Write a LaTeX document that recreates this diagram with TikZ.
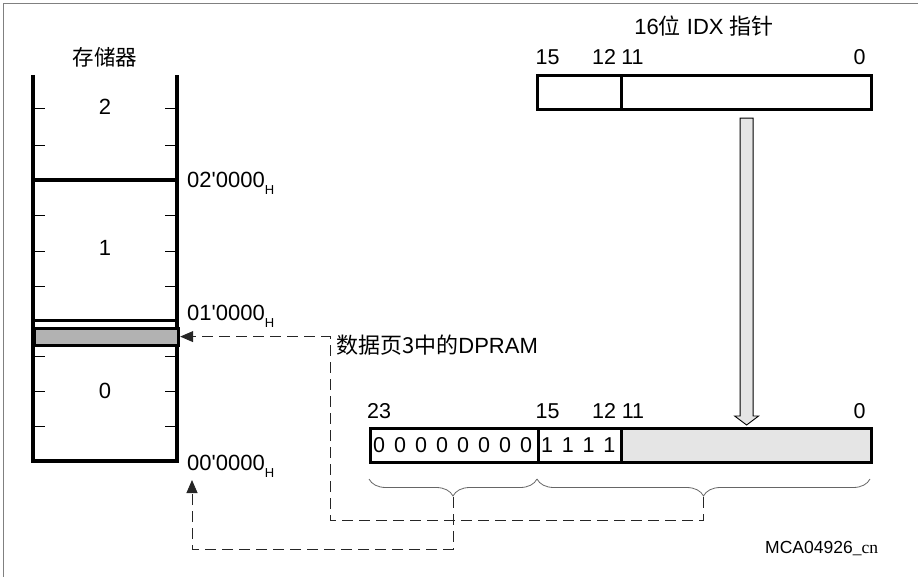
\documentclass[tikz,border=0pt]{standalone}
\usepackage{fontspec}
\setmainfont{Liberation Sans}[Ligatures=TeXOff]
\newfontfamily\cjk{Noto Sans CJK SC}
\newfontfamily\serifcn{Liberation Serif}
\usetikzlibrary{arrows.meta,decorations.pathreplacing,calc}
\newcommand\hexlbl[1]{#1\raisebox{-7pt}{\fontsize{13}{14}\selectfont H}}
\begin{document}
\begin{tikzpicture}[x=1pt,y=-1pt,
  thickline/.style={line width=3.2pt},
  ticks/.style={line width=0.9pt},
  frameline/.style={draw=black!50, line width=1pt},
  dline/.style={draw=black!85, line width=0.9pt, dash pattern=on 11pt off 6pt},
  tipstyle/.style={-{Triangle[length=13pt,width=11pt]}},
  lbl/.style={font=\fontsize{22}{24}\selectfont, inner sep=0pt},
  bitlbl/.style={font=\fontsize{21.5}{24}\selectfont, inner sep=0pt, anchor=base},
  cell/.style={draw, line width=3.2pt, anchor=north west, inner sep=0pt, minimum height=34pt},
  bracestyle/.style={draw=black!60, line width=0.8pt, decorate, decoration={brace, amplitude=17pt, mirror}},
  blockarrow/.style={draw=black, line width=0.9pt, fill=black!10}
]
\useasboundingbox (0,0) rectangle (918,577);
% frame
\draw[frameline] (3.5,577) -- (3.5,3.5) -- (918,3.5);

% ---------- memory ----------
\node[lbl, font=\cjk\fontsize{21.5}{24}\selectfont] (memtitle) at (105,57) {存储器};
\draw[thickline] (33,75) -- (33,461) -- (177,461) -- (177,75);
\draw[thickline] (33,180) -- (177,180);
\draw[thickline] (33,320.5) -- (177,320.5);
\node[draw, line width=3.2pt, fill=black!30, anchor=north west, inner sep=0pt,
      minimum width=144pt, minimum height=17pt] (dpram) at (33,326.5) {};
\foreach \y in {108,145,215,251,286,356,391,426}{
  \draw[ticks] (33,\y) -- (45,\y);
  \draw[ticks] (165,\y) -- (177,\y);
}
\node[lbl, anchor=base] (seg2) at (105,115) {2};
\node[lbl, anchor=base] (seg1) at (105,256) {1};
\node[lbl, anchor=base] (seg0) at (105,398) {0};
\node[lbl, anchor=base west] (hex2) at (187,188) {\hexlbl{02'0000}};
\node[lbl, anchor=base west] (hex1) at (187,320) {\hexlbl{01'0000}};
\node[lbl, anchor=base west] (hex0) at (187,470) {\hexlbl{00'0000}};

% ---------- 16-bit IDX pointer ----------
\node[lbl, anchor=base] (idxtitle) at (704,35) {16{\cjk 位} IDX {\cjk 指针}};
\node[cell, minimum width=84pt] (idxhi) at (536,74) {};
\node[cell, minimum width=250pt] (idxlo) at (620,74) {};
\node[bitlbl] (t15) at (547.5,65) {15};
\node[bitlbl] (t12) at (604,65) {12};
\node[bitlbl] (t11) at (632.5,65) {11};
\node[bitlbl] (t0) at (859.5,65) {0};

% ---------- 24-bit address ----------
\node[cell, minimum width=168pt] (b23) at (369,427) {};
\node[cell, minimum width=83pt] (b15) at (537,427) {};
\node[cell, minimum width=250pt, fill=black!10] (b11) at (620,427) {};
\foreach \i in {0,...,7}{
  \node[bitlbl] at (379+21*\i,452) {0};
}
\foreach \i in {0,...,3}{
  \node[bitlbl] at (547+20.8*\i,452) {1};
}
\node[bitlbl] (a23) at (379,418) {23};
\node[bitlbl] (a15) at (547.5,418) {15};
\node[bitlbl] (a12) at (604,418) {12};
\node[bitlbl] (a11) at (633,418) {11};
\node[bitlbl] (a0) at (859.5,418) {0};

% block arrow
\draw[blockarrow]
  ($(idxlo.south)+(-6.5,7)$) -- ($(idxlo.south)+(6.5,7)$) --
  ($(b11.north |- 0,416)+(6.5,0)$) -- ($(b11.north |- 0,416)+(12,0)$) --
  ($(b11.north)+(0,-2)$) --
  ($(b11.north |- 0,416)+(-12,0)$) -- ($(b11.north |- 0,416)+(-6.5,0)$) -- cycle;

% braces
\draw[bracestyle] (369,479) -- (537,479);
\draw[bracestyle] (537,479) -- (870,479);
\coordinate (lbt) at ($(369,479)!0.5!(537,479)+(0,18)$);
\coordinate (rbt) at ($(537,479)!0.5!(870,479)+(0,18)$);

% dashed connectors
\coordinate (c1) at (330,520);
\draw[dline, tipstyle] (rbt) -- (rbt |- c1) -- (c1) |- (dpram.east);
\coordinate (c2) at (192,549);
\coordinate (addr0) at (192,480);
\draw[dline, tipstyle] (lbt) -- (lbt |- c2) -- (c2) -- (addr0);

\node[lbl, anchor=base west] (dplabel) at (336,353) {{\cjk 数据页3中的}DPRAM};
\node[inner sep=0pt, anchor=base west, font=\fontsize{17.5}{20}\selectfont] (fig) at (765,553) {MCA04926{\serifcn\_cn}};
\end{tikzpicture}
\end{document}
